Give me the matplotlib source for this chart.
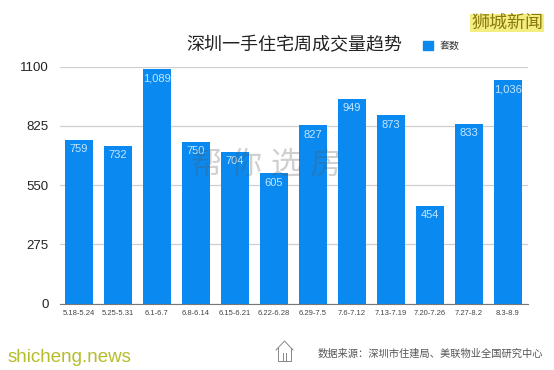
#!/usr/bin/env python
# -*- coding:utf-8 -*-
import matplotlib
matplotlib.use("Agg")
import matplotlib.pyplot as plt
from matplotlib.lines import Line2D
from matplotlib.patches import Patch

plt.rcParams['font.family'] = ['Liberation Sans', 'Noto Sans CJK SC', 'DejaVu Sans']

weeks = ['5.18-5.24', '5.25-5.31', '6.1-6.7', '6.8-6.14', '6.15-6.21', '6.22-6.28',
         '6.29-7.5', '7.6-7.12', '7.13-7.19', '7.20-7.26', '7.27-8.2', '8.3-8.9']
counts = [759, 732, 1089, 750, 704, 605, 827, 949, 873, 454, 833, 1036]
yticks = [0, 275, 550, 825, 1100]

W, H = 554, 370
BLUE = '#0a8af0'

fig = plt.figure(figsize=(W / 100, H / 100), dpi=100, facecolor='white')
ax = fig.add_axes([60 / W, 1 - 303.5 / H, 468 / W, 237 / H])

ax.bar(range(len(counts)), counts, width=0.72, color=BLUE, zorder=3)
ax.set_xlim(-0.487, 11.513)
ax.set_ylim(0, 1100)

ax.set_yticks(yticks)
ax.set_yticklabels([str(v) for v in yticks], fontsize=9.5, color='#222222')
ax.set_xticks(range(len(weeks)))
ax.set_xticklabels(weeks, fontsize=5.5, color='#444444')
ax.tick_params(length=0)
ax.tick_params(axis='y', pad=8)
ax.tick_params(axis='x', pad=4.5)
ax.grid(axis='y', color='#cfcfcf', lw=0.9, zorder=1)
for s in ['top', 'left', 'right']:
    ax.spines[s].set_visible(False)
ax.spines['bottom'].set_color('#777777')
ax.spines['bottom'].set_linewidth(0.8)
ax.spines['bottom'].set_zorder(4)

# 柱内数值
for i, v in enumerate(counts):
    ax.annotate(f'{v:,}', (i, v), xytext=(0, -3.2), textcoords='offset points',
                ha='center', va='top', fontsize=8, color='#c4e6ff', zorder=5)

fig.text(294 / W, 1 - 46 / H, '深圳一手住宅周成交量趋势', fontsize=13, color='#222222',
         ha='center', va='center')

ax.legend(handles=[Patch(color=BLUE, label='套数')], loc='center left',
          bbox_to_anchor=(423 / W, 1 - 46 / H), bbox_transform=fig.transFigure,
          frameon=False, fontsize=7.2, handlelength=1.0, handleheight=1.0,
          handletextpad=0.7, borderpad=0, borderaxespad=0, labelcolor='#333333')

# 水印
fig.text(266 / W, 1 - 165 / H, '帮 你 选 房', fontsize=22.5, color='#555555', alpha=0.28,
         ha='center', va='center', zorder=10)
fig.text(507 / W, 1 - 23 / H, '狮城新闻', fontsize=13, color='#8a7a10',
         ha='center', va='center',
         bbox=dict(facecolor='#f4ee80', edgecolor='none', pad=0.5))
fig.text(8 / W, 1 - 357 / H, 'shicheng.news', fontsize=13.5, color='#b5bd2a',
         ha='left', va='center')
fig.text(318 / W, 1 - 354 / H, '数据来源：深圳市住建局、美联物业全国研究中心', fontsize=7.4,
         color='#555555', ha='left', va='center')

# 房子图标
house = [([276, 284.5, 293], [350, 341, 350]), ([278, 278, 291, 291], [348, 361, 361, 348]),
         ([283, 283], [353, 361]), ([286, 286], [353, 361])]
for xs, ys in house:
    fig.add_artist(Line2D([x / W for x in xs], [1 - y / H for y in ys],
                          color='#888888', lw=0.7))

fig.savefig('out.png', dpi=100, facecolor='white')
